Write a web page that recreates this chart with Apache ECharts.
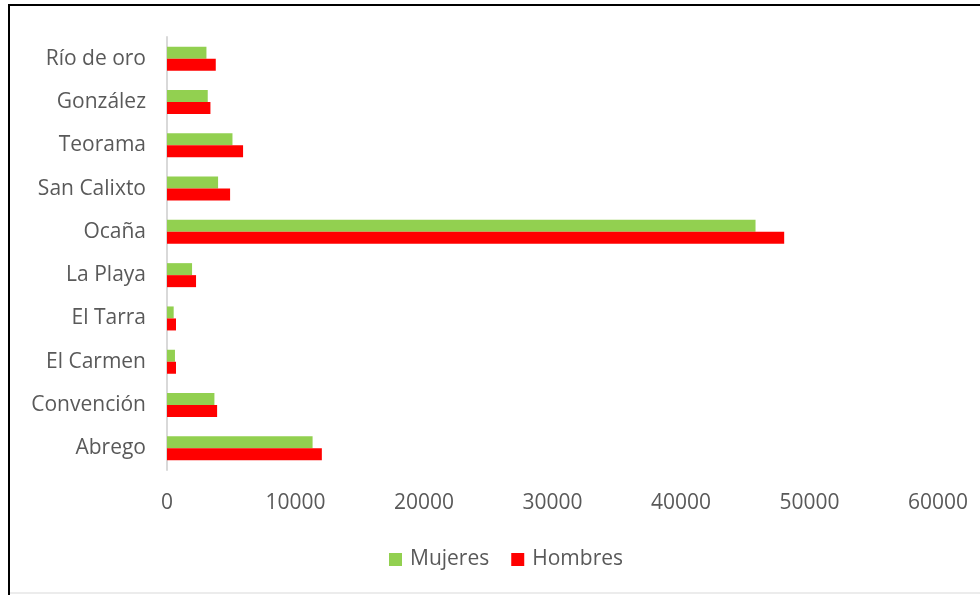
<!DOCTYPE html>
<html>
<head>
<meta charset="utf-8">
<script src="https://cdn.jsdelivr.net/npm/echarts@6/dist/echarts.min.js"></script>
<style>
html,body{margin:0;padding:0;background:#fff;}
#chart{width:980px;height:595px;}
</style>
</head>
<body>
<div id="chart"></div>
<script>
const categories = ['Abrego','Convención','El Carmen','El Tarra','La Playa','Ocaña','San Calixto','Teorama','González','Río de oro'];
const mujeres = [11330, 3690, 620, 520, 1950, 45800, 3975, 5095, 3170, 3070];
const hombres = [12050, 3900, 700, 700, 2260, 48030, 4910, 5920, 3380, 3795];
const xTicks = { min: 0, max: 60000, interval: 10000 };

const FONT = '"Open Sans", sans-serif';
const TXT = '#595959';

const chart = echarts.init(document.getElementById('chart'), null, {renderer:'canvas'});
chart.setOption({
  animation: false,
  backgroundColor: '#fff',
  textStyle: { fontFamily: FONT },
  grid: { left: 167, right: 42, top: 37, height: 433, containLabel: false },
  legend: {
    data: ['Mujeres','Hombres'],
    left: 384, top: 544,
    itemWidth: 13, itemHeight: 13, itemGap: 22,
    icon: 'rect',
    textStyle: { fontFamily: FONT, fontSize: 21, color: TXT, padding: [0,0,0,3] }
  },
  xAxis: {
    type: 'value', min: xTicks.min, max: xTicks.max, interval: xTicks.interval,
    axisLine: { show: false }, axisTick: { show: false },
    splitLine: { show: false },
    axisLabel: { fontFamily: FONT, fontSize: 21, color: TXT, margin: 23,
      formatter: function (v) { return String(v); } }
  },
  yAxis: {
    type: 'category', data: categories,
    axisLine: { show: true, lineStyle: { color: '#d9d9d9', width: 2 } },
    axisTick: { show: false },
    axisLabel: { fontFamily: FONT, fontSize: 21, color: TXT, margin: 21 }
  },
  series: [
    { name: 'Mujeres', type: 'bar', data: mujeres, barWidth: 12, barGap: '0%',
      itemStyle: { color: '#92d050' } },
    { name: 'Hombres', type: 'bar', data: hombres, barWidth: 12, barGap: '0%',
      itemStyle: { color: '#ff0000' } }
  ],
  graphic: [
    { type: 'line', shape: { x1: 9, y1: 4, x2: 9, y2: 595 }, style: { stroke: '#000', lineWidth: 2 } },
    { type: 'line', shape: { x1: 8, y1: 5, x2: 980, y2: 5 }, style: { stroke: '#000', lineWidth: 2 } },
    { type: 'line', shape: { x1: 10, y1: 593, x2: 980, y2: 593 }, style: { stroke: '#d9d9d9', lineWidth: 1 } }
  ]
});
</script>
</body>
</html>
